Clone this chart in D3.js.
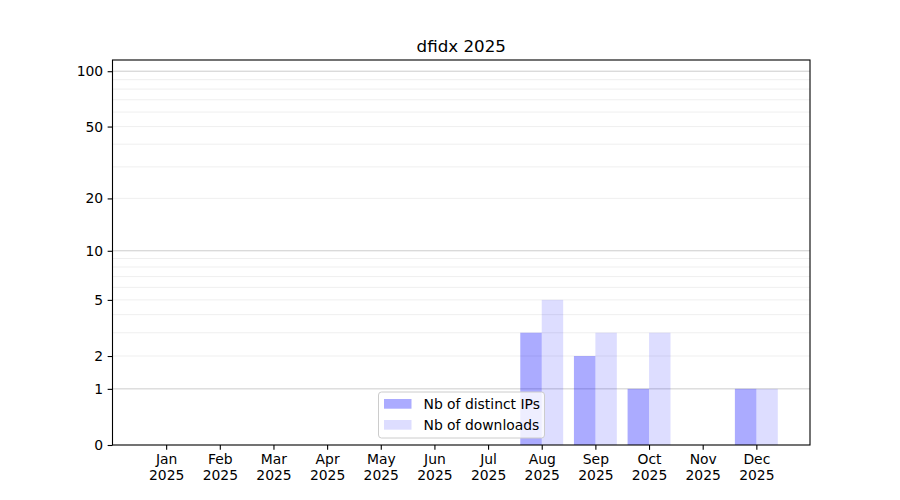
<!DOCTYPE html>
<html>
<head>
<meta charset="utf-8">
<script src="https://cdn.jsdelivr.net/npm/d3@7"></script>
<style>
  body { margin: 0; background: #fff; }
  text { font-family: "DejaVu Sans", sans-serif; }
</style>
</head>
<body>
<script>
// data
const months = ["Jan", "Feb", "Mar", "Apr", "May", "Jun", "Jul", "Aug", "Sep", "Oct", "Nov", "Dec"];
const year = "2025";
const ips = [0, 0, 0, 0, 0, 0, 0, 3, 2, 1, 0, 1];
const downloads = [0, 0, 0, 0, 0, 0, 0, 5, 3, 3, 0, 1];
const yTicks = [0, 1, 2, 5, 10, 20, 50, 100];
const yDecades = [1, 10, 100];
const yMinor = [2, 3, 4, 5, 6, 7, 8, 9, 20, 30, 40, 50, 60, 70, 80, 90];
const yMax = 115;

const w = 900, h = 500;
const plotL = 112.5, plotR = 810, plotT = 60, plotB = 445;
const fs = 13.9;

const svg = d3.select("body").append("svg")
  .attr("width", w).attr("height", h);

// month index -> x, bars 0.4 wide on either side of the tick
const x = d3.scaleLinear().domain([-1, 12]).range([plotL, plotR]);
// symlog with constant 1 is log(1 + y)
const y = d3.scaleSymlog().constant(1).domain([0, yMax]).range([plotB, plotT]);
const bw = 0.4;

// grid
svg.append("g").selectAll("line")
  .data(yMinor).enter().append("line")
  .attr("x1", plotL).attr("x2", plotR)
  .attr("y1", d => y(d)).attr("y2", d => y(d))
  .attr("stroke", "#ebebeb").attr("stroke-width", 0.8);
svg.append("g").selectAll("line")
  .data(yDecades).enter().append("line")
  .attr("x1", plotL).attr("x2", plotR)
  .attr("y1", d => y(d)).attr("y2", d => y(d))
  .attr("stroke", "#cccccc").attr("stroke-width", 1);

// bars
svg.append("g").selectAll("rect")
  .data(ips).enter().append("rect")
  .attr("x", (d, i) => x(i - bw))
  .attr("width", x(bw) - x(0))
  .attr("y", d => y(d))
  .attr("height", d => y(0) - y(d))
  .attr("fill", "blue").attr("fill-opacity", 0.33);
svg.append("g").selectAll("rect")
  .data(downloads).enter().append("rect")
  .attr("x", (d, i) => x(i))
  .attr("width", x(bw) - x(0))
  .attr("y", d => y(d))
  .attr("height", d => y(0) - y(d))
  .attr("fill", "blue").attr("fill-opacity", 0.135);

// axes
const xAxis = d3.axisBottom(x)
  .tickValues(d3.range(months.length))
  .tickSize(4.86).tickPadding(4.5)
  .tickFormat(i => months[i]);
const gx = svg.append("g")
  .attr("transform", "translate(0," + plotB + ")")
  .call(xAxis);
gx.select(".domain").remove();
gx.selectAll(".tick line").attr("stroke", "#000").attr("stroke-width", 1.1);
gx.selectAll(".tick text")
  .attr("font-size", fs).attr("fill", "#000")
  .each(function(i) {
    const t = d3.select(this).text(null);
    t.append("tspan").attr("x", 0).attr("dy", "0.71em").text(months[i]);
    t.append("tspan").attr("x", 0).attr("dy", "1.17em").text(year);
  });

const yAxis = d3.axisLeft(y)
  .tickValues(yTicks)
  .tickSize(4.86).tickPadding(4.5)
  .tickFormat(d3.format("d"));
const gy = svg.append("g")
  .attr("transform", "translate(" + plotL + ",0)")
  .call(yAxis);
gy.select(".domain").remove();
gy.selectAll(".tick line").attr("stroke", "#000").attr("stroke-width", 1.1);
gy.selectAll(".tick text").attr("font-size", fs).attr("fill", "#000");

// frame
svg.append("rect")
  .attr("x", plotL).attr("y", plotT)
  .attr("width", plotR - plotL).attr("height", plotB - plotT)
  .attr("fill", "none").attr("stroke", "#000").attr("stroke-width", 1.1);

// title
svg.append("text")
  .attr("x", (plotL + plotR) / 2).attr("y", 52)
  .attr("text-anchor", "middle")
  .attr("font-size", 16.7)
  .text("dfidx " + year);

// legend
const lg = svg.append("g").attr("transform", "translate(378.5,392)");
lg.append("rect")
  .attr("width", 166).attr("height", 46)
  .attr("rx", 3)
  .attr("fill", "#fff").attr("fill-opacity", 0.8)
  .attr("stroke", "#cccccc");
const items = [["Nb of distinct IPs", 0.33], ["Nb of downloads", 0.135]];
items.forEach((it, k) => {
  lg.append("rect")
    .attr("x", 5.5).attr("y", 7 + k * 21)
    .attr("width", 27.5).attr("height", 9.7)
    .attr("fill", "blue").attr("fill-opacity", it[1]);
  lg.append("text")
    .attr("x", 45).attr("y", 16.8 + k * 21)
    .attr("font-size", fs)
    .text(it[0]);
});
</script>
</body>
</html>
